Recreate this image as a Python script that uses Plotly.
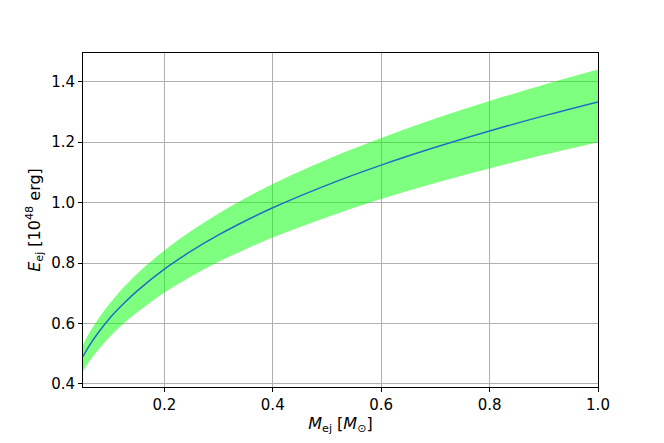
import plotly.graph_objects as go

# ejecta mass [M_sun] and read-off energies [1e48 erg]
m_ej = [0.05, 0.06, 0.075, 0.1, 0.125, 0.15, 0.2, 0.25, 0.3, 0.35, 0.4, 0.5, 0.6, 0.7, 0.8, 0.9, 1.0]
e_mid = [0.491, 0.522, 0.562, 0.619, 0.666, 0.708, 0.780, 0.840, 0.893, 0.940, 0.983, 1.058, 1.124, 1.183, 1.237, 1.287, 1.333]
e_upper = [0.530, 0.564, 0.607, 0.668, 0.720, 0.765, 0.842, 0.907, 0.964, 1.015, 1.062, 1.143, 1.214, 1.278, 1.336, 1.390, 1.440]
e_lower = [0.442, 0.470, 0.506, 0.557, 0.600, 0.637, 0.702, 0.756, 0.804, 0.846, 0.885, 0.952, 1.012, 1.065, 1.113, 1.158, 1.200]

fig = go.Figure()

fig.add_trace(go.Scatter(x=m_ej, y=e_lower, mode='lines', line=dict(width=0, shape='spline'),
                         showlegend=False, hoverinfo='skip'))
fig.add_trace(go.Scatter(x=m_ej, y=e_upper, mode='lines', line=dict(width=0, shape='spline'),
                         fill='tonexty', fillcolor='rgba(0,255,0,0.5)', showlegend=False, hoverinfo='skip'))
fig.add_trace(go.Scatter(x=m_ej, y=e_mid, mode='lines', line=dict(color='#1f6fc5', width=1.5, shape='spline'),
                         showlegend=False))

axis_style = dict(showline=True, linecolor='black', linewidth=1, mirror=True,
                  showgrid=True, gridcolor='#b0b0b0', gridwidth=1, zeroline=False,
                  ticks='outside', ticklen=4, tickcolor='black',
                  tickfont=dict(family='DejaVu Sans', size=15, color='black'))

fig.update_xaxes(range=[0.05, 1.0], tickvals=[0.2, 0.4, 0.6, 0.8, 1.0], ticktext=['0.2', '0.4', '0.6', '0.8', '1.0'],
                 title=dict(text='<i>M</i><sub>ej</sub> [<i>M</i><sub>⊙</sub>]', standoff=1,
                            font=dict(family='DejaVu Sans', size=16, color='black')),
                 **axis_style)
fig.update_yaxes(range=[0.39, 1.495], tickvals=[0.4, 0.6, 0.8, 1.0, 1.2, 1.4], ticktext=['0.4', '0.6', '0.8', '1.0', '1.2', '1.4'],
                 title=dict(text='<i>E</i><sub>ej</sub> [10<sup>48</sup> erg]', standoff=6,
                            font=dict(family='DejaVu Sans', size=16, color='black')),
                 **axis_style)

# the page adds an 8px body margin, so the figure is a bit smaller than the window
fig.update_layout(width=656, height=435, plot_bgcolor='white', paper_bgcolor='white',
                  margin=dict(l=75, r=66, t=45, b=56))

fig.write_html("out.html")
